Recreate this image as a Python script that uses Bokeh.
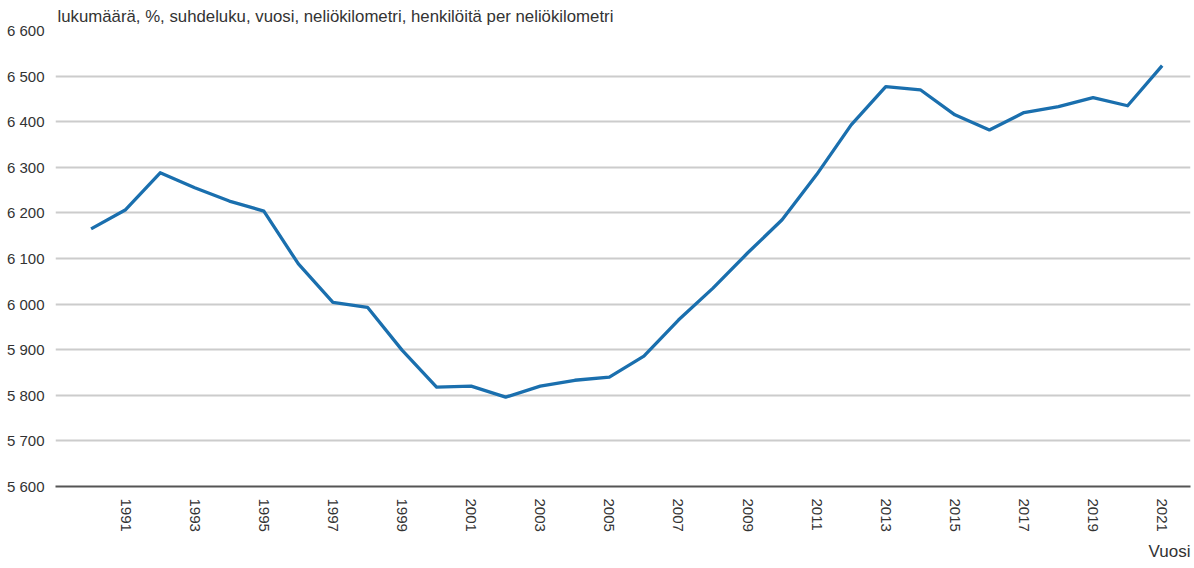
from bokeh.plotting import figure
from bokeh.models import FixedTicker, CustomJSTickFormatter, Title, Range1d
from bokeh.embed import file_html
from bokeh.resources import INLINE
import math

years = list(range(1990, 2022))
values = [6165, 6207, 6288, 6255, 6226, 6204, 6088, 6004, 5993, 5899,
          5818, 5820, 5796, 5820, 5833, 5840, 5886, 5965, 6035, 6112,
          6185, 6284, 6393, 6477, 6470, 6415, 6382, 6420, 6433, 6453,
          6435, 6523]
x_ticks = list(range(1991, 2022, 2))
y_ticks = list(range(5600, 6601, 100))
title_text = "lukumäärä, %, suhdeluku, vuosi, neliökilometri, henkilöitä per neliökilometri"
x_label_text = "Vuosi"

FONT = "Liberation Sans"
TXT = "#333333"

p = figure(width=1192, height=566, output_backend="svg", toolbar_location=None,
           x_range=Range1d(1988.97, 2021.82), y_range=Range1d(5600, 6600),
           min_border_left=55, min_border_right=2, min_border_top=0, min_border_bottom=0)
p.outline_line_color = None
p.background_fill_color = "white"

p.line(years, values, line_color="#1a6fae", line_width=3.3, line_join="round")

# y axis
p.yaxis.ticker = FixedTicker(ticks=y_ticks)
p.yaxis.formatter = CustomJSTickFormatter(code="return tick.toFixed(0).replace(/\\B(?=(\\d{3})+(?!\\d))/g, ' ');")
p.yaxis.axis_line_color = None
p.yaxis.major_tick_line_color = None
p.yaxis.minor_tick_line_color = None
p.yaxis.major_label_standoff = 5
p.yaxis.major_label_text_font = FONT
p.yaxis.major_label_text_font_size = "15px"
p.yaxis.major_label_text_color = TXT

p.ygrid.ticker = FixedTicker(ticks=y_ticks)
p.ygrid.grid_line_color = "#cccccc"
p.ygrid.grid_line_width = 2
p.xgrid.grid_line_color = None

# x axis
p.xaxis.ticker = FixedTicker(ticks=x_ticks)
p.xaxis.axis_line_color = "#555555"
p.xaxis.axis_line_width = 2
p.xaxis.major_tick_line_color = None
p.xaxis.minor_tick_line_color = None
p.xaxis.major_label_orientation = -math.pi / 2
p.xaxis.major_label_standoff = 6
p.xaxis.major_label_text_font = FONT
p.xaxis.major_label_text_font_size = "15px"
p.xaxis.major_label_text_color = TXT

p.add_layout(Title(text=title_text, align="left", offset=2, standoff=9,
                   text_font=FONT, text_font_size="16.8px", text_color=TXT,
                   text_font_style="normal"), "above")
p.add_layout(Title(text=x_label_text, align="right", standoff=11,
                   text_font=FONT, text_font_size="17px", text_color=TXT,
                   text_font_style="normal"), "below")

open("out.html", "w").write(file_html(p, INLINE))
